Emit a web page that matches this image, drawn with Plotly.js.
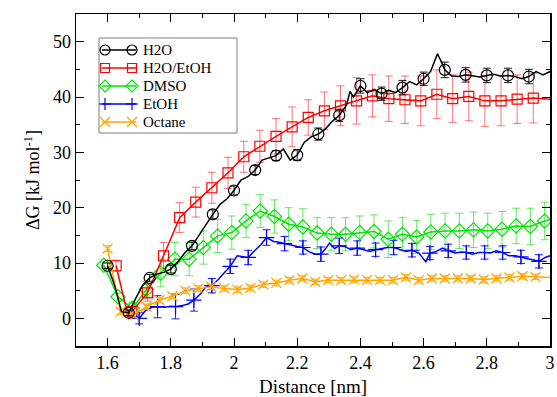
<!DOCTYPE html>
<html>
<head>
<meta charset="utf-8">
<script src="https://cdn.plot.ly/plotly-3.0.1.min.js"></script>
<style>html,body{margin:0;padding:0;background:#fff;}#chart{width:557px;height:397px;}</style>
</head>
<body>
<div id="chart"></div>
<script>
// ---- Series names ----
const seriesNames = ['H2O', 'H2O/EtOH', 'DMSO', 'EtOH', 'Octane'];

// ---- H2O (black) ----
const h2oLineX = [1.6,1.622,1.644,1.667,1.689,1.711,1.733,1.756,1.778,1.8,1.822,1.844,1.867,1.889,1.911,1.933,1.956,1.978,2.0,2.022,2.044,2.067,2.089,2.111,2.133,2.156,2.178,2.2,2.222,2.244,2.267,2.289,2.311,2.333,2.356,2.367,2.378,2.4,2.422,2.444,2.467,2.489,2.511,2.533,2.556,2.578,2.6,2.622,2.644,2.656,2.667,2.689,2.711,2.733,2.756,2.778,2.8,2.822,2.844,2.867,2.889,2.911,2.933,2.956,2.978,3.0];
const h2oLineY = [9.5,6.0,1.2,1.0,3.6,6.0,7.3,8.0,8.3,8.9,10.2,11.8,13.1,15.0,17.0,18.8,20.6,21.6,23.1,25.0,25.6,26.8,28.6,29.0,29.4,30.6,28.6,29.5,31.8,32.8,33.3,34.2,35.6,36.7,38.5,41.0,40.0,42.0,40.8,41.4,40.6,41.2,40.8,41.7,42.8,42.2,43.3,44.6,47.8,46.4,44.9,43.8,43.7,44.0,43.8,43.6,43.9,44.1,43.8,43.9,43.7,43.3,43.7,44.6,44.0,44.6];
const h2oMarkX = [1.6,1.667,1.733,1.8,1.867,1.933,2.0,2.067,2.133,2.2,2.267,2.333,2.4,2.467,2.533,2.6,2.667,2.733,2.8,2.867,2.933];
const h2oMarkY = [9.5,1.0,7.3,8.9,13.1,18.8,23.1,26.8,29.4,29.5,33.3,36.7,42.0,40.6,41.7,43.3,44.9,44.0,43.9,43.9,43.7];
const h2oErr   = [0.5,0.5,0.6,0.7,0.7,0.8,0.8,0.8,0.9,1.0,1.1,1.1,1.3,1.2,1.3,1.2,1.4,1.3,1.3,1.3,1.3];

// ---- H2O/EtOH (red) ----
const mixLineX = [1.627,1.66,1.677,1.726,1.777,1.828,1.879,1.93,1.981,2.031,2.082,2.133,2.184,2.235,2.286,2.337,2.388,2.438,2.49,2.541,2.591,2.642,2.692,2.743,2.794,2.845,2.896,2.947,3.0];
const mixLineY = [9.5,1.5,1.2,4.6,11.3,18.2,21.0,23.6,26.3,29.2,31.1,32.9,34.6,36.3,37.5,38.4,39.3,40.2,39.7,39.5,39.3,40.5,39.7,40.1,39.3,39.3,39.6,39.8,39.6];
const mixMarkX = [1.627,1.677,1.726,1.777,1.828,1.879,1.93,1.981,2.031,2.082,2.133,2.184,2.235,2.286,2.337,2.388,2.438,2.49,2.541,2.591,2.642,2.692,2.743,2.794,2.845,2.896,2.947];
const mixMarkY = [9.5,1.2,4.6,11.3,18.2,21.0,23.6,26.3,29.2,31.1,32.9,34.6,36.3,37.5,38.4,39.3,40.2,39.7,39.5,39.3,40.5,39.7,40.1,39.3,39.3,39.6,39.8];
const mixErr   = [1.0,1.0,1.5,2.4,2.7,2.7,2.8,2.8,2.8,2.9,3.2,3.6,3.2,3.4,3.6,4.2,3.8,4.1,4.3,4.5,4.4,4.3,4.4,4.6,4.5,4.4,4.5];

// ---- DMSO (green) ----
const dmsoLineX = [1.588,1.633,1.678,1.723,1.768,1.813,1.858,1.903,1.948,1.993,2.038,2.083,2.128,2.173,2.218,2.263,2.308,2.353,2.398,2.443,2.488,2.533,2.578,2.623,2.668,2.713,2.758,2.803,2.848,2.893,2.938,2.983,3.0];
const dmsoLineY = [9.6,3.9,1.8,5.2,8.2,10.7,10.7,12.8,14.9,15.5,17.6,19.4,18.4,17.0,16.5,15.4,15.2,15.2,15.5,15.7,14.3,15.2,14.7,15.6,15.8,15.8,16.0,15.8,16.1,16.7,16.6,17.6,17.8];
const dmsoMarkX = [1.588,1.633,1.678,1.723,1.768,1.813,1.858,1.903,1.948,1.993,2.038,2.083,2.128,2.173,2.218,2.263,2.308,2.353,2.398,2.443,2.488,2.533,2.578,2.623,2.668,2.713,2.758,2.803,2.848,2.893,2.938,2.983];
const dmsoMarkY = [9.6,3.9,1.8,5.2,8.2,10.7,10.7,12.8,14.9,15.5,17.6,19.4,18.4,17.0,16.5,15.4,15.2,15.2,15.5,15.7,14.3,15.2,14.7,15.6,15.8,15.8,16.0,15.8,16.1,16.7,16.6,17.6];
const dmsoErr   = [0.5,0.6,1.0,1.5,2.5,3.0,3.0,3.0,3.0,3.0,3.0,3.0,3.0,3.0,3.3,2.8,3.0,3.0,3.0,3.0,3.3,3.0,3.0,3.2,3.2,3.2,3.2,3.2,3.2,3.2,3.3,3.4];

// ---- EtOH (blue) ----
const etohLineX = [1.69,1.70,1.72,1.74,1.758,1.78,1.80,1.815,1.835,1.855,1.873,1.895,1.91,1.93,1.95,1.97,1.988,2.01,2.028,2.045,2.065,2.085,2.103,2.125,2.14,2.16,2.18,2.2,2.218,2.238,2.258,2.275,2.29,2.302,2.318,2.333,2.35,2.37,2.39,2.41,2.43,2.448,2.468,2.485,2.505,2.525,2.545,2.563,2.585,2.607,2.62,2.64,2.66,2.678,2.7,2.72,2.735,2.755,2.775,2.793,2.812,2.83,2.85,2.87,2.89,2.908,2.925,2.945,2.965,2.985,3.0];
const etohLineY = [0.5,0.0,1.4,2.0,2.1,2.0,2.2,2.1,2.3,2.6,3.3,4.5,5.6,5.9,7.0,8.3,9.4,11.3,11.2,11.0,12.2,13.3,14.6,13.9,13.8,13.5,13.3,13.0,12.8,12.0,11.6,11.6,12.6,13.6,12.6,13.1,13.0,12.4,12.7,12.4,12.1,12.4,12.6,12.8,12.8,12.4,12.1,12.3,11.8,10.2,11.8,12.1,12.7,12.2,11.8,12.0,11.9,11.6,11.9,11.9,11.8,12.2,11.9,11.3,11.3,11.1,10.8,10.6,10.3,11.0,11.3];
const etohMarkX = [1.70,1.758,1.815,1.873,1.93,1.988,2.045,2.103,2.16,2.218,2.275,2.333,2.39,2.448,2.505,2.563,2.62,2.678,2.735,2.793,2.85,2.908,2.965];
const etohMarkY = [0.0,2.1,2.1,3.3,5.9,9.4,11.0,14.6,13.5,12.8,11.6,13.1,12.7,12.4,12.8,12.3,11.8,12.2,11.9,11.9,11.9,11.1,10.3];
const etohErr   = [1.0,2.0,2.2,2.0,1.3,1.3,1.3,1.4,1.3,1.2,1.3,1.4,1.3,1.2,1.3,1.2,1.2,1.2,1.2,1.2,1.2,1.2,1.2];

// ---- Octane (orange) ----
const octLineX = [1.6,1.641,1.682,1.723,1.764,1.805,1.846,1.887,1.928,1.969,2.011,2.052,2.093,2.134,2.175,2.216,2.257,2.298,2.339,2.380,2.421,2.462,2.503,2.544,2.585,2.626,2.667,2.708,2.749,2.790,2.831,2.872,2.913,2.954,3.0];
const octLineY = [12.6,1.2,0.6,2.1,3.3,4.0,5.0,5.4,5.7,5.4,5.2,5.5,6.1,6.4,6.9,7.2,6.6,6.9,6.9,7.0,6.9,6.9,6.9,7.4,6.9,7.2,7.2,7.2,7.2,7.0,7.2,7.4,7.6,7.5,7.4];
const octMarkX = [1.6,1.641,1.682,1.723,1.764,1.805,1.846,1.887,1.928,1.969,2.011,2.052,2.093,2.134,2.175,2.216,2.257,2.298,2.339,2.380,2.421,2.462,2.503,2.544,2.585,2.626,2.667,2.708,2.749,2.790,2.831,2.872,2.913,2.954];
const octMarkY = [12.6,1.2,0.6,2.1,3.3,4.0,5.0,5.4,5.7,5.4,5.2,5.5,6.1,6.4,6.9,7.2,6.6,6.9,6.9,7.0,6.9,6.9,6.9,7.4,6.9,7.2,7.2,7.2,7.2,7.0,7.2,7.4,7.6,7.5];
const octErr   = [0.5,0.5,0.5,0.5,0.5,0.5,0.5,0.5,0.5,0.5,0.5,0.5,0.5,0.5,0.5,0.5,0.5,0.5,0.5,0.5,0.5,0.5,0.5,0.5,0.5,0.5,0.5,0.5,0.5,0.5,0.5,0.5,0.5,0.5];

// ---- Axis ticks ----
const xTickStep = 0.2, xMinorStep = 0.1, yTickStep = 10, yMinorStep = 5;

const styles = {
  'H2O':      {color:'#000000', err:'rgba(0,0,0,0.9)',       symbol:'circle-open',     size:11},
  'H2O/EtOH': {color:'#ff0000', err:'rgba(255,0,0,0.55)',    symbol:'square-open',     size:10},
  'DMSO':     {color:'#00e600', err:'rgba(0,220,0,0.6)',     symbol:'diamond-open',    size:11},
  'EtOH':     {color:'#0000ff', err:'rgba(0,0,255,0.9)',     symbol:'cross-thin-open', size:11},
  'Octane':   {color:'#ffa500', err:'rgba(255,165,0,0.9)',   symbol:'x-thin-open',     size:10}
};

const sets = {
  'H2O':      [h2oLineX, h2oLineY, h2oMarkX, h2oMarkY, h2oErr],
  'H2O/EtOH': [mixLineX, mixLineY, mixMarkX, mixMarkY, mixErr],
  'DMSO':     [dmsoLineX, dmsoLineY, dmsoMarkX, dmsoMarkY, dmsoErr],
  'EtOH':     [etohLineX, etohLineY, etohMarkX, etohMarkY, etohErr],
  'Octane':   [octLineX, octLineY, octMarkX, octMarkY, octErr]
};

const drawOrder = ['DMSO', 'H2O/EtOH', 'EtOH', 'Octane', 'H2O'];
const traces = [];
drawOrder.forEach(name => {
  const s = styles[name], d = sets[name];
  traces.push({x:d[0], y:d[1], type:'scatter', mode:'lines', name:name, showlegend:false, hoverinfo:'skip',
    line:{color:s.color, width:1.5}});
  traces.push({x:d[2], y:d[3], type:'scatter', mode:'markers', name:name, showlegend:false,
    marker:{symbol:s.symbol, size:s.size, color:s.color, line:{color:s.color, width:1.2}},
    error_y:{type:'data', array:d[4], visible:true, color:s.err, thickness:1, width:4}});
});

// ---- Legend box (drawn as layout shapes + annotations, xmgrace style) ----
const M = {l:76, r:7, t:14, b:51}, W = 557, H = 397;
const plotW = W - M.l - M.r, plotH = H - M.t - M.b;
const px2x = px => (px - M.l) / plotW;
const py2y = py => (H - M.b - py) / plotH;
const legBox = {left:99, right:237, top:38, bottom:133};
const legRowY = [50, 68, 86, 104, 122];
const legLine = [102, 136], legMarks = [105, 132], legTextX = 142;

const shapes = [{type:'rect', xref:'paper', yref:'paper', layer:'above',
  x0:px2x(legBox.left), x1:px2x(legBox.right), y0:py2y(legBox.bottom), y1:py2y(legBox.top),
  line:{color:'#7f7f7f', width:1}, fillcolor:'#ffffff'}];
const annotations = [];
function markerShapes(sym, color, cx, cy) {
  const base = {xref:'paper', yref:'paper', xsizemode:'pixel', ysizemode:'pixel',
    xanchor:px2x(cx), yanchor:py2y(cy), layer:'above', line:{color:color, width:1.2}};
  if (sym === 'circle-open') return [Object.assign({}, base, {type:'circle', x0:-5, x1:5, y0:-5, y1:5})];
  if (sym === 'square-open') return [Object.assign({}, base, {type:'rect', x0:-4.5, x1:4.5, y0:-4.5, y1:4.5})];
  if (sym === 'diamond-open') return [Object.assign({}, base, {type:'path', path:'M0,6L6,0L0,-6L-6,0Z'})];
  if (sym === 'cross-thin-open') return [
    Object.assign({}, base, {type:'line', x0:-6, x1:6, y0:0, y1:0}),
    Object.assign({}, base, {type:'line', x0:0, x1:0, y0:-6, y1:6})];
  return [
    Object.assign({}, base, {type:'line', x0:-5, x1:5, y0:-5, y1:5}),
    Object.assign({}, base, {type:'line', x0:-5, x1:5, y0:5, y1:-5})];
}
seriesNames.forEach((name, i) => {
  const s = styles[name], yc = legRowY[i];
  shapes.push({type:'line', xref:'paper', yref:'paper', layer:'above',
    x0:px2x(legLine[0]), x1:px2x(legLine[1]), y0:py2y(yc), y1:py2y(yc),
    line:{color:s.color, width:1.5}});
  legMarks.forEach(mx => markerShapes(s.symbol, s.color, mx, yc).forEach(sh => shapes.push(sh)));
  annotations.push({text:name, xref:'paper', yref:'paper', x:px2x(legTextX), y:py2y(yc),
    xanchor:'left', yanchor:'middle', showarrow:false, borderpad:0,
    font:{family:'Liberation Serif', size:15, color:'#000'}});
});

const fontFam = 'Liberation Serif';
const axisCommon = {
  ticks:'inside', ticklen:8, tickwidth:1, tickcolor:'#000',
  showline:true, linewidth:1.5, linecolor:'#000', mirror:'allticks',
  showgrid:false, zeroline:false,
  tickfont:{family:fontFam, size:18, color:'#000'}
};
const layout = {
  width:W, height:H,
  margin:M,
  paper_bgcolor:'#fff', plot_bgcolor:'#fff',
  font:{family:fontFam, size:18, color:'#000'},
  showlegend:false,
  xaxis:Object.assign({}, axisCommon, {
    range:[1.5, 3.0], tick0:0, dtick:xTickStep,
    minor:{dtick:xMinorStep, ticks:'inside', ticklen:4, tickwidth:1, tickcolor:'#000', showgrid:false},
    title:{text:'Distance [nm]', font:{family:fontFam, size:19}, standoff:10}
  }),
  yaxis:Object.assign({}, axisCommon, {
    range:[-5, 55], tick0:0, dtick:yTickStep,
    minor:{dtick:yMinorStep, ticks:'inside', ticklen:4, tickwidth:1, tickcolor:'#000', showgrid:false},
    title:{text:'ΔG [kJ mol<sup>-1</sup>]', font:{family:fontFam, size:18}, standoff:8}
  }),
  shapes:shapes,
  annotations:annotations
};
Plotly.newPlot('chart', traces, layout, {staticPlot:true, displayModeBar:false});
</script>
</body>
</html>
